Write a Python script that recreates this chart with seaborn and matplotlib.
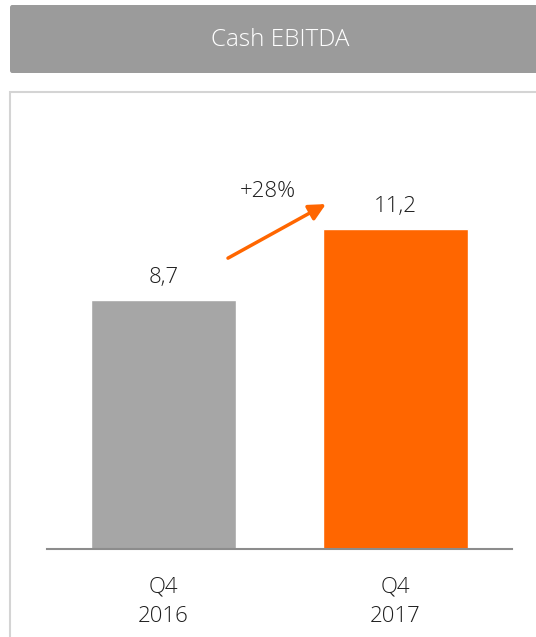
import matplotlib
matplotlib.use("Agg")
import matplotlib.pyplot as plt
from matplotlib.patches import FancyBboxPatch, Rectangle
import seaborn as sns
import pandas as pd

sns.set_style("white")
plt.rcParams["font.family"] = ["Open Sans", "DejaVu Sans"]

# Data
periods = ["Q4\n2016", "Q4\n2017"]
values = [8.7, 11.2]
value_labels = ["8,7", "11,2"]
bar_colors = ["#A6A6A6", "#FF6600"]
growth_label = "+28%"
title = "Cash EBITDA"

W, H = 536, 637
fig = plt.figure(figsize=(W / 100, H / 100), dpi=100)

def fx(px):
    return px / W

def fy(py):
    return 1 - py / H

TEXT = "#1E1E1E"

# Header band
header = FancyBboxPatch((fx(10), fy(73)), fx(560 - 10), (73 - 5) / H,
                        boxstyle="round,pad=0,rounding_size=0.004",
                        transform=fig.transFigure, facecolor="#9B9B9B",
                        edgecolor="none", zorder=0)
fig.patches.append(header)
fig.text(fx(280), fy(40), title, color="white", fontsize=17.5,
         fontweight="light", ha="center", va="center")

# Panel frame
frame = Rectangle((fx(10), fy(700)), fx(600), (700 - 92) / H,
                  transform=fig.transFigure, facecolor="none",
                  edgecolor="#D4D4D4", linewidth=1.5, zorder=0)
fig.patches.append(frame)

ax = fig.add_axes([fx(47), fy(549), fx(512 - 47), (549 - 120) / H])
df = pd.DataFrame({"period": periods, "value": values})
sns.barplot(data=df, x="period", y="value", hue="period", palette=bar_colors,
            width=0.625, legend=False, ax=ax, saturation=1)
ax.set_xlim(-0.502, 1.502)
ax.set_ylim(0, 15)
ax.set_xlabel("")
ax.set_ylabel("")
ax.set_yticks([])
for side in ["top", "left", "right"]:
    ax.spines[side].set_visible(False)
ax.spines["bottom"].set_color("#8C8C8C")
ax.spines["bottom"].set_linewidth(1.5)
ax.tick_params(axis="x", length=0, pad=20, labelsize=16, colors=TEXT)
for t in ax.get_xticklabels():
    t.set_linespacing(1.5)
    t.set_fontweight("light")
ax.patch.set_alpha(0)

for i, (v, lab) in enumerate(zip(values, value_labels)):
    ax.text(i, v + 0.42, lab, ha="center", va="bottom", fontsize=16,
            color=TEXT, fontweight="light")

# Growth arrow
ax.annotate("", xy=(0.70, 12.06), xytext=(0.278, 10.17),
            arrowprops=dict(arrowstyle="-|>,head_length=1.0,head_width=0.5",
                            color="#FF6600", lw=2.5, shrinkA=0, shrinkB=0))
ax.text(0.45, 12.15, growth_label, ha="center", va="bottom", fontsize=16,
        color=TEXT, fontweight="light")

fig.savefig("out.png", dpi=100)
